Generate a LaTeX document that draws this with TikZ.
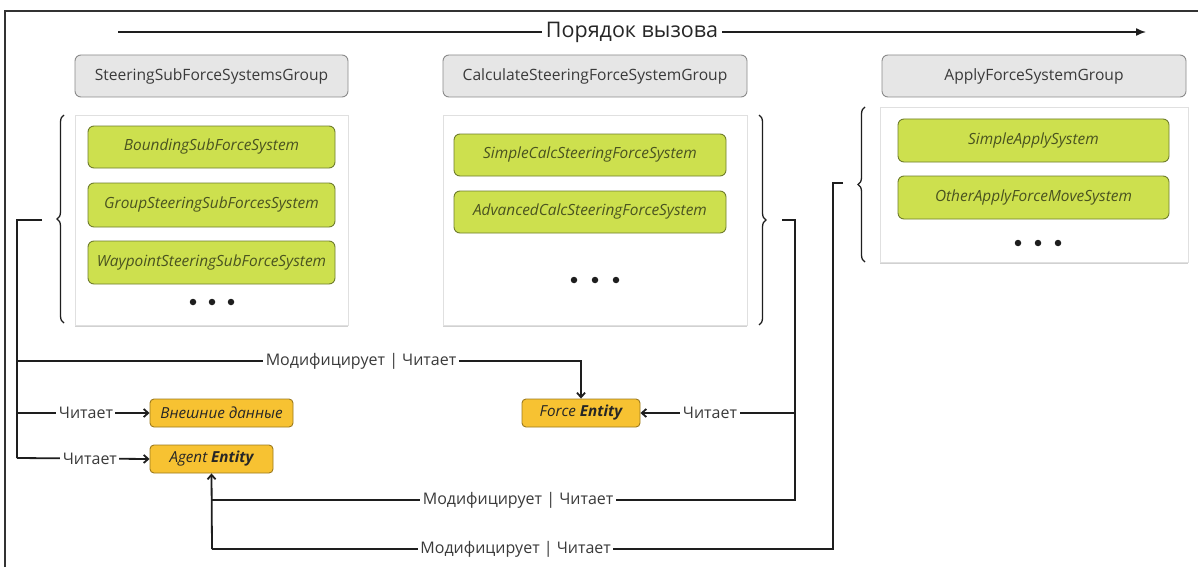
\documentclass[tikz,border=0pt]{standalone}
\usepackage{fontspec}
\setmainfont{Open Sans}
\usetikzlibrary{arrows.meta,shadows,decorations.pathreplacing}
\definecolor{hdrfill}{HTML}{E6E6E6}
\definecolor{hdrdraw}{HTML}{8A8A8A}
\definecolor{sysfill}{HTML}{CDE04E}
\definecolor{sysdraw}{HTML}{6F7D2C}
\definecolor{systext}{HTML}{4A5320}
\definecolor{entfill}{HTML}{F7C232}
\definecolor{entdraw}{HTML}{9C7A1E}
\definecolor{inkline}{HTML}{1E1E1E}
\definecolor{labtext}{HTML}{3A3A3A}
\tikzset{
  grouphdr/.style={draw=hdrdraw, fill=hdrfill, rounded corners=6pt, line width=0.9pt,
    inner sep=0pt, minimum height=42pt, text=labtext, font=\fontsize{15.6}{17}\selectfont},
  groupbody/.style={draw=black!12, fill=white, inner sep=0pt,
    drop shadow={shadow xshift=0pt, shadow yshift=-2pt, opacity=0.18, fill=black}},
  sysbox/.style={draw=sysdraw, fill=sysfill, rounded corners=6pt, line width=0.9pt,
    inner sep=0pt, text=systext, font=\fontsize{15.4}{17}\selectfont\itshape},
  entbox/.style={draw=entdraw, fill=entfill, rounded corners=4pt, line width=0.9pt,
    inner sep=0pt, minimum height=28pt, text=black!85, font=\fontsize{15.2}{17}\selectfont\itshape},
  wire/.style={draw=inkline, line width=1.8pt},
  tip/.style={-{Straight Barb[length=4.5pt,width=8pt,line width=1.8pt]}},
  wirelab/.style={fill=white, inner sep=2.5pt, text=labtext, font=\fontsize{16}{18}\selectfont},
  bracket/.style={draw=inkline, line width=1.3pt, decorate, decoration={brace, amplitude=7pt}},
  dot/.style={circle, fill=inkline, inner sep=0pt, minimum size=6.5pt}
}
\begin{document}
\begin{tikzpicture}[x=1pt,y=-1pt]
\useasboundingbox (0,0) rectangle (1198,567);
\fill[white] (0,0) rectangle (1198,567);

% outer frame (runs off the right and bottom edges)
\draw[draw=black!80, line width=2pt] (5,567) -- (5,11) -- (1198,11);

% call order arrow
\coordinate (ordA) at (118,32);
\coordinate (ordB) at (1146,32);
\draw[draw=inkline, line width=1.5pt, -{Latex[length=10pt,width=8pt]}] (ordA) --
  node[fill=white, inner sep=4pt, text=black!85, font=\fontsize{21.5}{23}\selectfont] {Порядок вызова} (ordB);

% group headers
\node[grouphdr, minimum width=273pt] (hs) at (211.5,76) {SteeringSubForceSystemsGroup};
\node[grouphdr, minimum width=304pt] (hc) at (595,76) {CalculateSteeringForceSystemGroup};
\node[grouphdr, minimum width=304pt] (ha) at (1034,76) {ApplyForceSystemGroup};

% group bodies
\node[groupbody, minimum width=273pt, minimum height=210pt] (bs) at (211.5,220) {};
\node[groupbody, minimum width=304pt, minimum height=210pt] (bc) at (595,220) {};
\node[groupbody, minimum width=308pt, minimum height=155pt] (ba) at (1034,184.5) {};

% systems
\node[sysbox, minimum width=247pt, minimum height=42pt] (s1) at (211.5,147) {BoundingSubForceSystem};
\node[sysbox, minimum width=247pt, minimum height=44pt] (s2) at (211.5,205) {GroupSteeringSubForcesSystem};
\node[sysbox, minimum width=247pt, minimum height=43pt] (s3) at (211.5,262.5) {WaypointSteeringSubForceSystem};
\node[dot] (d1) at (193,302) {};
\node[dot] (d2) at (212,302) {};
\node[dot] (d3) at (231,302) {};

\node[sysbox, minimum width=272pt, minimum height=42pt] (c1) at (590,155) {SimpleCalcSteeringForceSystem};
\node[sysbox, minimum width=272pt, minimum height=42pt] (c2) at (590,212) {AdvancedCalcSteeringForceSystem};
\node[dot] (d4) at (574,280) {};
\node[dot] (d5) at (595,280) {};
\node[dot] (d6) at (616,280) {};

\node[sysbox, minimum width=271pt, minimum height=43pt] (a1) at (1033.5,140.5) {SimpleApplySystem};
\node[sysbox, minimum width=271pt, minimum height=43pt] (a2) at (1033.5,197.5) {OtherApplyForceMoveSystem};
\node[dot] (d7) at (1018,243) {};
\node[dot] (d8) at (1038,243) {};
\node[dot] (d9) at (1058,243) {};

% braces grouping each set of systems
\draw[bracket] (64,323) -- (64,115);
\draw[bracket] (759,115) -- (759,325);
\draw[bracket] (865,262) -- (865,107);

% data
\node[entbox, minimum width=143pt] (ext) at (221.5,413) {Внешние данные};
\node[entbox, minimum width=123pt] (agent) at (211.5,459) {Agent \textbf{Entity}};
\node[entbox, minimum width=118pt] (force) at (581,413) {Force \textbf{Entity}};

% junction points
\coordinate (sL) at (42,220);
\coordinate (busL) at (17,220);
\coordinate (sC) at (782,220);
\coordinate (busC) at (795,220);
\coordinate (sA) at (843,183);
\coordinate (busA) at (833,183);
\coordinate (joinC) at (795,500);
\coordinate (joinA) at (833,549);
\coordinate (aUp) at (212,549);
\coordinate (aMid) at (212,500);

% steering sub-force systems
\draw[wire] (sL) -- (busL) -- (17,458);
\draw[wire, tip] (17,361) -| node[wirelab, pos=0.305] {Модифицирует | Читает} (force.north);
\draw[wire, tip] (17,413) -- node[wirelab, pos=0.52] {Читает} (ext.west);
\draw[wire, tip] (17,458) -- node[wirelab, pos=0.55] {Читает} (agent.west);

% calculate steering force systems
\draw[wire] (sC) -- (busC) -- (joinC) -- node[wirelab, pos=0.475] {Модифицирует | Читает} (aMid);
\draw[wire, tip] (795,413) -- node[wirelab, pos=0.55] {Читает} (force.east);

% apply force systems
\draw[wire] (sA) -- (busA) -- (joinA) -- node[wirelab, pos=0.511] {Модифицирует | Читает} (aUp);
\draw[wire, tip] (aUp) -- (agent.south);
\end{tikzpicture}
\end{document}
